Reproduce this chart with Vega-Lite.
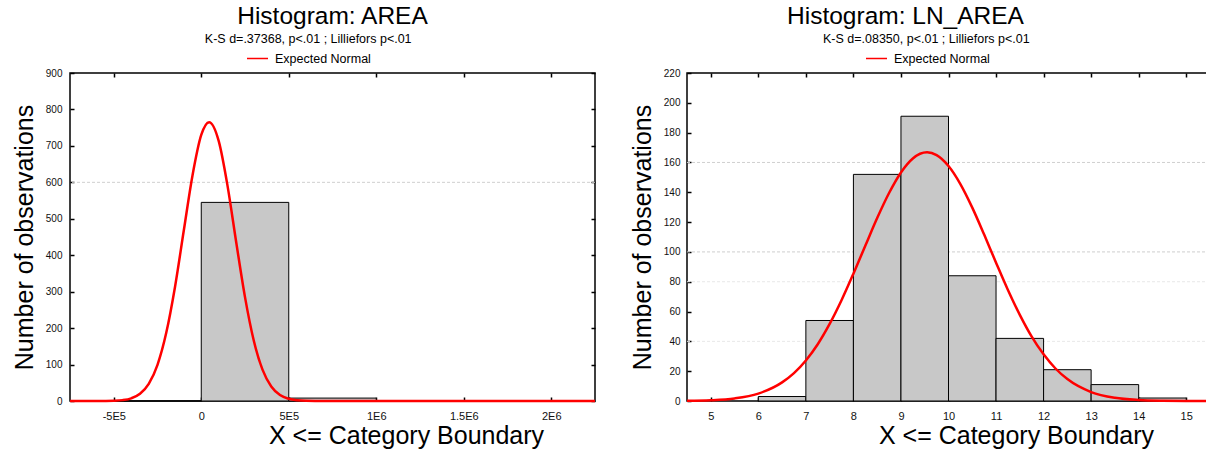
{
  "$schema": "https://vega.github.io/schema/vega-lite/v6.json",
  "background": "white",
  "padding": {"left": 11, "top": 3, "right": 0, "bottom": 0},
  "spacing": 28,
  "config": {
    "font": "Liberation Sans",
    "view": {"stroke": "#000000", "strokeWidth": 1.5},
    "axis": {"domain": false, "grid": false, "labelFont": "Liberation Sans", "labelColor": "#111111", "titleFont": "Liberation Sans", "titleFontWeight": "normal", "titleColor": "#000000", "tickColor": "#000000", "tickWidth": 1.5},
    "title": {"font": "Liberation Sans", "fontWeight": "normal", "fontSize": 24.5, "color": "#000000", "subtitleFont": "Liberation Sans", "subtitleFontSize": 12.5, "subtitleColor": "#000000", "anchor": "middle", "offset": 1, "subtitlePadding": 3},
    "legend": {"labelFont": "Liberation Sans", "labelFontSize": 12.5, "labelColor": "#000000", "padding": 0}
  },
  "datasets": {
    "gridA": [{"g": 600}],
    "barsA": [
      {"x0": -500000, "x1": 0, "count": 0},
      {"x0": 0, "x1": 500000, "count": 545},
      {"x0": 500000, "x1": 1000000, "count": 8}
    ],
    "curveA": [
      {"x": -750000, "y": 0}, {"x": -600000, "y": 0.05}, {"x": -550000, "y": 0.2}, {"x": -500000, "y": 0.7},
      {"x": -450000, "y": 2.4}, {"x": -400000, "y": 7.4}, {"x": -350000, "y": 19.7}, {"x": -300000, "y": 46.9},
      {"x": -250000, "y": 99.3}, {"x": -200000, "y": 187}, {"x": -150000, "y": 313}, {"x": -100000, "y": 467},
      {"x": -50000, "y": 619}, {"x": 0, "y": 730}, {"x": 45000, "y": 765}, {"x": 100000, "y": 713},
      {"x": 150000, "y": 591}, {"x": 200000, "y": 435}, {"x": 250000, "y": 285}, {"x": 300000, "y": 166},
      {"x": 350000, "y": 86}, {"x": 400000, "y": 39.8}, {"x": 450000, "y": 16.3}, {"x": 500000, "y": 6.0},
      {"x": 550000, "y": 1.9}, {"x": 600000, "y": 0.5}, {"x": 700000, "y": 0}, {"x": 2250000, "y": 0}
    ],
    "gridB1": [{"g": 160}, {"g": 100}],
    "gridB2": [{"g": 80}, {"g": 40}],
    "barsB": [
      {"x0": 6, "x1": 7, "count": 3},
      {"x0": 7, "x1": 8, "count": 54},
      {"x0": 8, "x1": 9, "count": 152},
      {"x0": 9, "x1": 10, "count": 191},
      {"x0": 10, "x1": 11, "count": 84},
      {"x0": 11, "x1": 12, "count": 42},
      {"x0": 12, "x1": 13, "count": 21},
      {"x0": 13, "x1": 14, "count": 11},
      {"x0": 14, "x1": 15, "count": 2}
    ],
    "curveB": [
      {"x": 4.5, "y": 0.14}, {"x": 5, "y": 0.52}, {"x": 5.5, "y": 1.72}, {"x": 6, "y": 4.97},
      {"x": 6.5, "y": 12.5}, {"x": 6.75, "y": 18.7}, {"x": 7, "y": 27.2}, {"x": 7.25, "y": 38.1},
      {"x": 7.5, "y": 51.7}, {"x": 7.75, "y": 67.6}, {"x": 8, "y": 85.4}, {"x": 8.25, "y": 104.1},
      {"x": 8.5, "y": 122.7}, {"x": 8.75, "y": 139.5}, {"x": 9, "y": 153.3}, {"x": 9.25, "y": 162.7},
      {"x": 9.55, "y": 166.8}, {"x": 9.75, "y": 164.9}, {"x": 10, "y": 157.6}, {"x": 10.25, "y": 145.5},
      {"x": 10.5, "y": 129.7}, {"x": 10.75, "y": 111.6}, {"x": 11, "y": 92.8}, {"x": 11.25, "y": 74.5},
      {"x": 11.5, "y": 57.8}, {"x": 11.75, "y": 43.2}, {"x": 12, "y": 31.3}, {"x": 12.25, "y": 21.8},
      {"x": 12.5, "y": 14.7}, {"x": 13, "y": 6.0}, {"x": 13.5, "y": 2.15}, {"x": 14, "y": 0.67},
      {"x": 14.5, "y": 0.18}, {"x": 15, "y": 0.04}, {"x": 15.5, "y": 0}
    ]
  },
  "resolve": {"scale": {"color": "independent"}, "legend": {"color": "independent"}},
  "hconcat": [
    {
      "width": 525,
      "height": 328,
      "title": {"text": "Histogram: AREA", "subtitle": "K-S d=.37368, p<.01 ; Lilliefors p<.01\u00a0\u00a0\u00a0\u00a0\u00a0\u00a0\u00a0\u00a0\u00a0\u00a0\u00a0\u00a0\u00a0\u00a0\u200b"},
      "layer": [
        {
          "data": {"name": "gridA"},
          "mark": {"type": "rule", "color": "#cfcfcf", "strokeDash": [3, 2], "strokeWidth": 1},
          "encoding": {"y": {"field": "g", "type": "quantitative", "scale": {"domain": [0, 900], "nice": false}, "axis": null}}
        },
        {
          "data": {"name": "barsA"},
          "mark": {"type": "rect", "fill": "#c8c8c8", "stroke": "#000000", "strokeWidth": 1},
          "encoding": {
            "x": {"field": "x0", "type": "quantitative", "scale": {"domain": [-750000, 2250000], "nice": false, "zero": false},
              "axis": {"orient": "bottom", "values": [-500000, 0, 500000, 1000000, 1500000, 2000000],
                "labelExpr": "datum.value == 0 ? '0' : datum.value == 500000 ? '5E5' : datum.value == -500000 ? '-5E5' : datum.value == 1000000 ? '1E6' : datum.value == 1500000 ? '1.5E6' : '2E6'",
                "labelFontSize": 11, "tickSize": -4, "labelPadding": 13, "title": "X <= Category Boundary", "titleFontSize": 25, "titlePadding": 2, "titleX": 336}},
            "x2": {"field": "x1"},
            "y": {"field": "count", "type": "quantitative", "scale": {"domain": [0, 900], "nice": false},
              "axis": {"orient": "left", "values": [0, 100, 200, 300, 400, 500, 600, 700, 800, 900], "labelFontSize": 10, "tickSize": -4, "labelPadding": 12, "title": "Number of observations", "titleFontSize": 25, "titlePadding": 8}},
            "y2": {"datum": 0}
          }
        },
        {
          "data": {"name": "curveA"},
          "mark": {"type": "line", "strokeWidth": 2.5, "interpolate": "monotone"},
          "encoding": {
            "x": {"field": "x", "type": "quantitative", "scale": {"domain": [-750000, 2250000], "nice": false, "zero": false},
              "axis": {"orient": "top", "values": [-500000, 0, 500000, 1000000, 1500000, 2000000], "labels": false, "tickSize": -4, "title": null}},
            "y": {"field": "y", "type": "quantitative", "scale": {"domain": [0, 900], "nice": false},
              "axis": {"orient": "right", "values": [0, 100, 200, 300, 400, 500, 600, 700, 800, 900], "labels": false, "tickSize": -4, "title": null}},
            "color": {"datum": "Expected Normal", "type": "nominal", "scale": {"range": ["#ff0000"]},
              "legend": {"orient": "none", "legendX": 176, "legendY": -26, "title": null, "symbolType": "stroke", "symbolSize": 441, "symbolStrokeWidth": 1.5, "labelOffset": 6}}
          }
        }
      ],
      "resolve": {"axis": {"x": "independent", "y": "independent"}}
    },
    {
      "width": 523,
      "height": 328,
      "title": {"text": "Histogram: LN_AREA", "subtitle": "\u200b\u00a0\u00a0\u00a0\u00a0\u00a0\u00a0\u00a0\u00a0\u00a0\u00a0\u00a0\u00a0K-S d=.08350, p<.01 ; Lilliefors p<.01", "dx": -43},
      "layer": [
        {
          "data": {"name": "gridB1"},
          "mark": {"type": "rule", "color": "#cfcfcf", "strokeDash": [3, 2], "strokeWidth": 1},
          "encoding": {"y": {"field": "g", "type": "quantitative", "scale": {"domain": [0, 220], "nice": false}, "axis": null}}
        },
        {
          "data": {"name": "gridB2"},
          "mark": {"type": "rule", "color": "#e8e8e8", "strokeDash": [3, 2], "strokeWidth": 1},
          "encoding": {"y": {"field": "g", "type": "quantitative", "scale": {"domain": [0, 220], "nice": false}, "axis": null}}
        },
        {
          "data": {"name": "barsB"},
          "mark": {"type": "rect", "fill": "#c8c8c8", "stroke": "#000000", "strokeWidth": 1},
          "encoding": {
            "x": {"field": "x0", "type": "quantitative", "scale": {"domain": [4.5, 15.5], "nice": false, "zero": false},
              "axis": {"orient": "bottom", "values": [5, 6, 7, 8, 9, 10, 11, 12, 13, 14, 15], "format": "d",
                "labelFontSize": 11, "tickSize": -4, "labelPadding": 13, "title": "X <= Category Boundary", "titleFontSize": 25, "titlePadding": 2, "titleX": 329}},
            "x2": {"field": "x1"},
            "y": {"field": "count", "type": "quantitative", "scale": {"domain": [0, 220], "nice": false},
              "axis": {"orient": "left", "values": [0, 20, 40, 60, 80, 100, 120, 140, 160, 180, 200, 220], "labelFontSize": 10, "tickSize": -4, "labelPadding": 11, "title": "Number of observations", "titleFontSize": 25, "titlePadding": 8}},
            "y2": {"datum": 0}
          }
        },
        {
          "data": {"name": "curveB"},
          "mark": {"type": "line", "strokeWidth": 2.5, "interpolate": "monotone"},
          "encoding": {
            "x": {"field": "x", "type": "quantitative", "scale": {"domain": [4.5, 15.5], "nice": false, "zero": false},
              "axis": {"orient": "top", "values": [5, 6, 7, 8, 9, 10, 11, 12, 13, 14, 15], "labels": false, "tickSize": -4, "title": null}},
            "y": {"field": "y", "type": "quantitative", "scale": {"domain": [0, 220], "nice": false},
              "axis": {"orient": "right", "values": [0, 20, 40, 60, 80, 100, 120, 140, 160, 180, 200, 220], "labels": false, "tickSize": -4, "title": null}},
            "color": {"datum": "Expected Normal", "type": "nominal", "scale": {"range": ["#ff0000"]},
              "legend": {"orient": "none", "legendX": 178, "legendY": -26, "title": null, "symbolType": "stroke", "symbolSize": 441, "symbolStrokeWidth": 1.5, "labelOffset": 6}}
          }
        }
      ],
      "resolve": {"axis": {"x": "independent", "y": "independent"}}
    }
  ]
}
